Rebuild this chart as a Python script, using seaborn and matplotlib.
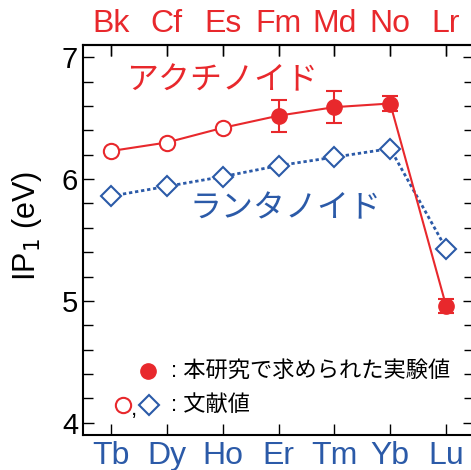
import numpy as np
import pandas as pd
import seaborn as sns
import matplotlib.pyplot as plt
from matplotlib.ticker import MultipleLocator

sns.set_theme(style='ticks')
plt.rcParams['font.family'] = ['Liberation Sans', 'Noto Sans CJK JP', 'DejaVu Sans']
plt.rcParams['axes.unicode_minus'] = False

red = '#e8282c'
blue = '#2b5aa8'

# actinides (top axis) / lanthanides (bottom axis)
actinides = ['Bk', 'Cf', 'Es', 'Fm', 'Md', 'No', 'Lr']
lanthanides = ['Tb', 'Dy', 'Ho', 'Er', 'Tm', 'Yb', 'Lu']
ip_act = [6.23, 6.30, 6.42, 6.52, 6.59, 6.62, 4.96]
err_act = [0, 0, 0, 0.13, 0.13, 0.065, 0.06]
measured = [False, False, False, True, True, True, True]
ip_lan = [5.86, 5.94, 6.02, 6.11, 6.18, 6.25, 5.43]

pos = np.arange(len(actinides))
act = pd.DataFrame({'pos': pos, 'ip': ip_act, 'err': err_act, 'meas': measured})
lan = pd.DataFrame({'pos': pos, 'ip': ip_lan})

fig = plt.figure(figsize=(4.71, 4.70), dpi=100)
ax = fig.add_axes([83/471, 35/470, 391/471, 390/470])

sns.lineplot(data=lan, x='pos', y='ip', ax=ax, color=blue, lw=2,
             dashes=False, zorder=2)
ax.lines[-1].set_dashes((1.2, 1.0))
ax.plot(lan.pos, lan.ip, ls='none', marker='D', ms=10.5, mfc='white',
        mec=blue, mew=1.5, zorder=3)

sns.lineplot(data=act, x='pos', y='ip', ax=ax, color=red, lw=1.5, zorder=4)
lit = act[~act.meas]
ax.plot(lit.pos, lit.ip, ls='none', marker='o', ms=11, mfc='white',
        mec=red, mew=1.5, zorder=5)
new = act[act.meas]
ax.errorbar(new.pos, new.ip, yerr=new.err, fmt='o', ms=11, color=red,
            mec=red, elinewidth=1.5, capsize=6, capthick=1.5, zorder=6)

ax.set_xlim(-0.5, 6.5)
ax.set_ylim(3.9, 7.1)
ax.yaxis.set_major_locator(MultipleLocator(1))
ax.yaxis.set_minor_locator(MultipleLocator(0.2))
ax.set_xticks(pos)
ax.set_xticklabels(lanthanides, color=blue, fontsize=23)
ax.set_xlabel('')
ax.set_ylabel('IP$_1$ (eV)', fontsize=22, color='black')
ax.yaxis.set_label_coords(-0.1, 0.535)
ax.tick_params(axis='y', which='both', direction='in', right=True,
               labelsize=21, colors='black', width=1)
ax.tick_params(axis='y', which='major', length=8)
ax.tick_params(axis='y', which='minor', length=7)
ax.tick_params(axis='x', direction='in', length=8, width=1, top=True,
               labelcolor=blue, color='black', pad=4)
for s in ax.spines.values():
    s.set_linewidth(1.5)
    s.set_color('black')

top = ax.secondary_xaxis('top')
top.set_xticks(pos)
top.set_xticklabels(actinides, color=red, fontsize=23)
top.tick_params(direction='in', length=8, width=1, pad=4)
top.spines['top'].set_linewidth(1.5)

ax.text(0.355, 0.91, 'アクチノイド', transform=ax.transAxes, color=red,
        fontsize=23, ha='center', va='center', family='Noto Sans CJK JP')
ax.text(0.517, 0.582, 'ランタノイド', transform=ax.transAxes, color=blue,
        fontsize=23, ha='center', va='center', family='Noto Sans CJK JP')

# legend drawn by hand
ax.plot([0.166], [0.164], 'o', ms=11, color=red, transform=ax.transAxes,
        clip_on=False)
ax.text(0.225, 0.164, ': 本研究で求められた実験値', transform=ax.transAxes,
        fontsize=16, ha='left', va='center', color='black')
ax.plot([0.102], [0.077], 'o', ms=11, mfc='white', mec=red, mew=1.5,
        transform=ax.transAxes)
ax.text(0.131, 0.066, ',', transform=ax.transAxes, fontsize=16,
        ha='center', va='center', color='black')
ax.plot([0.169], [0.077], 'D', ms=10.5, mfc='white', mec=blue, mew=1.5,
        transform=ax.transAxes)
ax.text(0.225, 0.077, ': 文献値', transform=ax.transAxes,
        fontsize=16, ha='left', va='center', color='black')

fig.savefig('out.png', dpi=100)
